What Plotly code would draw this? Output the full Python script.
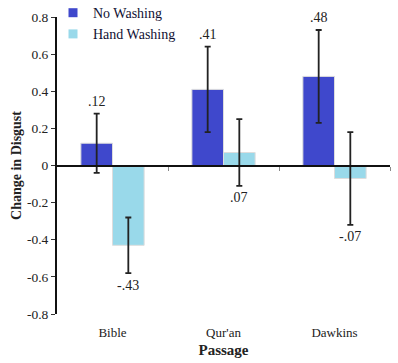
import plotly.graph_objects as go

categories = ["Bible", "Qur'an", "Dawkins"]
no_wash = [0.12, 0.41, 0.48]
no_wash_err = [0.16, 0.23, 0.25]
hand_wash = [-0.43, 0.07, -0.07]
hand_wash_err = [0.15, 0.18, 0.25]
no_wash_labels = [".12", ".41", ".48"]
hand_wash_labels = ["-.43", ".07", "-.07"]
y_ticks = [0.8, 0.6, 0.4, 0.2, 0, -0.2, -0.4, -0.6, -0.8]
y_ticktext = ["0.8", "0.6", "0.4", "0.2", "0", "-0.2", "-0.4", "-0.6", "-0.8"]

FONT = "Liberation Serif"
BLUE = "#3F48CC"
CYAN = "#99D9EA"
BARGAP = 0.43
xpos = list(range(len(categories)))
off = (1 - BARGAP) / 4

fig = go.Figure()
fig.add_trace(go.Bar(
    x=xpos, y=no_wash, name="No Washing", marker=dict(color=BLUE, line=dict(color="#dddddd", width=1)),
    error_y=dict(type="data", array=no_wash_err, color="#222222", thickness=1.8, width=3),
    showlegend=False))
fig.add_trace(go.Bar(
    x=xpos, y=hand_wash, name="Hand Washing", marker=dict(color=CYAN, line=dict(color="#dddddd", width=1)),
    error_y=dict(type="data", array=hand_wash_err, color="#222222", thickness=1.8, width=3),
    showlegend=False))
# legend entries
fig.add_trace(go.Scatter(x=[None], y=[None], mode="markers", name="No Washing",
                         marker=dict(symbol="square", size=9, color=BLUE)))
fig.add_trace(go.Scatter(x=[None], y=[None], mode="markers", name="Hand Washing",
                         marker=dict(symbol="square", size=9, color=CYAN)))
# dummy on zero-line axis
fig.add_trace(go.Scatter(x=[None], y=[None], xaxis="x2", showlegend=False, hoverinfo="skip"))

annotations = []
for i in xpos:
    annotations.append(dict(x=i - off, y=no_wash[i] + no_wash_err[i], text=no_wash_labels[i],
                            showarrow=False, yshift=12, font=dict(family=FONT, size=14, color="#222222")))
    annotations.append(dict(x=i + off, y=hand_wash[i] - hand_wash_err[i], text=hand_wash_labels[i],
                            showarrow=False, yshift=-12, font=dict(family=FONT, size=14, color="#222222")))

fig.update_layout(
    width=398, height=363,
    margin=dict(l=57, r=8, t=17, b=49, autoexpand=False),
    paper_bgcolor="white", plot_bgcolor="white",
    barmode="group", bargap=BARGAP, bargroupgap=0,
    font=dict(family=FONT, size=13, color="#222222"),
    annotations=annotations,
    legend=dict(x=-0.012, y=1.067, xanchor="left", yanchor="top", bgcolor="rgba(0,0,0,0)",
                font=dict(family=FONT, size=14, color="#111133"), itemwidth=30,
                tracegroupgap=0),
    xaxis=dict(range=[-0.5, 2.5], tickvals=xpos, ticktext=categories, showline=False,
               showgrid=False, zeroline=False, ticks="outside", ticklen=6, automargin=False,
               tickcolor="rgba(0,0,0,0)", tickfont=dict(family=FONT, size=13, color="#222222"),
               title=dict(text="<b>Passage</b>", font=dict(family=FONT, size=15, color="#222222"),
                          standoff=5)),
    xaxis2=dict(range=[-0.5, 2.5], overlaying="x", anchor="free", position=0.5, side="bottom",
                showline=True, linecolor="#111111", linewidth=2, showgrid=False, zeroline=False,
                tickvals=[0.5, 1.5, 2.5], ticks="outside", ticklen=4, tickcolor="#888888",
                tickwidth=1, showticklabels=False, automargin=False),
    yaxis=dict(range=[-0.8, 0.8], tickvals=y_ticks, ticktext=y_ticktext, showline=True,
               linecolor="#111111", linewidth=2, showgrid=False, zeroline=False,
               ticks="outside", ticklen=4, tickcolor="#333333", tickwidth=1, automargin=False,
               tickfont=dict(family=FONT, size=13.5, color="#222222"),
               title=dict(text="<b>Change in Disgust</b>",
                          font=dict(family=FONT, size=14, color="#222222"), standoff=2)),
)

fig.write_html("out.html", config={"displayModeBar": False},
               post_script="document.body.style.margin='0px';")
